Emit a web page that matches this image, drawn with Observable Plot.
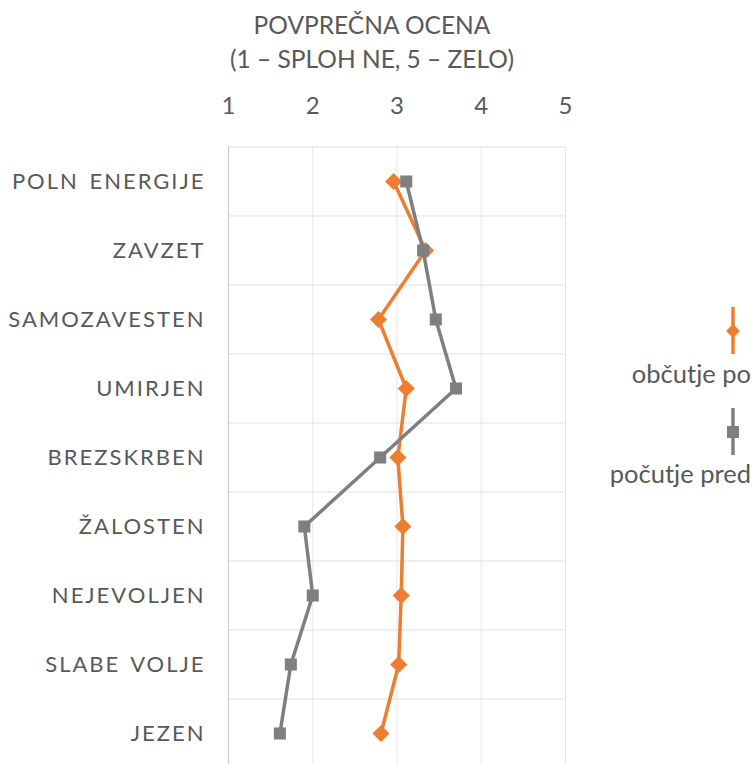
<!DOCTYPE html>
<html>
<head>
<meta charset="utf-8">
<script src="https://cdn.jsdelivr.net/npm/d3@7"></script>
<script src="https://cdn.jsdelivr.net/npm/@observablehq/plot@0.6"></script>
<style>
  body { margin: 0; background: #fff; }
  #wrap { position: relative; width: 752px; height: 764px; overflow: hidden; font-family: Lato, sans-serif; color: #595959; }
  #title { position: absolute; left: 0; width: 744px; top: 8px; text-align: center; font-size: 24.5px; line-height: 34px; }
  #wrap > svg { position: absolute; left: 0; top: 0; }
  #legend { pointer-events: none; }
</style>
</head>
<body>
<div id="wrap"><div id="title">POVPREČNA OCENA<br>(1 – SPLOH NE, 5 – ZELO)</div></div>
<script>
const categories = ["POLN ENERGIJE", "ZAVZET", "SAMOZAVESTEN", "UMIRJEN", "BREZSKRBEN", "ŽALOSTEN", "NEJEVOLJEN", "SLABE VOLJE", "JEZEN"];
const obcutjePo   = [2.96, 3.34, 2.78, 3.11, 3.01, 3.07, 3.05, 3.02, 2.81];
const pocutjePred = [3.11, 3.31, 3.46, 3.70, 2.80, 1.90, 2.00, 1.74, 1.61];
const xTicks = [1, 2, 3, 4, 5];
const seriesNames = ["občutje po", "počutje pred"];
const seriesColors = ["#ED7D31", "#7F7F7F"];

const rows = categories.flatMap((c, i) => [
  {cat: c, serie: seriesNames[0], value: obcutjePo[i]},
  {cat: c, serie: seriesNames[1], value: pocutjePred[i]}
]);

const W = 752, H = 764, fTop = 146, fBottom = 768, fLeft = 228, fRight = 565;
const step = (fBottom - fTop) / categories.length;
const isPo = d => d.serie === seriesNames[0];
const isPred = d => d.serie === seriesNames[1];

const chart = Plot.plot({
  width: W, height: H,
  marginTop: fTop, marginLeft: fLeft, marginRight: W - fRight, marginBottom: 0,
  style: {fontFamily: "Lato, sans-serif", color: "#595959", background: "transparent", overflow: "visible"},
  x: {domain: [1, 5], ticks: xTicks, axis: "top", tickSize: 0, tickPadding: 33, tickFormat: d => String(d), label: null},
  y: {type: "point", domain: categories, range: [fTop, fBottom], padding: 0.5, axis: "left", tickSize: 0, tickPadding: 23, label: null},
  marks: [
    Plot.ruleX(xTicks.slice(1), {stroke: "#e6e6e6", strokeWidth: 1}),
    Plot.ruleY(categories, {dy: -step / 2, stroke: "#e0e0e0", strokeWidth: 1}),
    Plot.ruleX([xTicks[0]], {stroke: "#cccccc", strokeWidth: 1.2}),
    Plot.line(rows, {filter: isPo, x: "value", y: "cat", stroke: seriesColors[0], strokeWidth: 3.5}),
    Plot.dot(rows, {filter: isPo, x: "value", y: "cat", symbol: "diamond2", r: 7.7, fill: seriesColors[0], stroke: "none"}),
    Plot.line(rows, {filter: isPred, x: "value", y: "cat", stroke: seriesColors[1], strokeWidth: 3.5}),
    Plot.dot(rows, {filter: isPred, x: "value", y: "cat", symbol: "square", r: 6.8, fill: seriesColors[1], stroke: "none"})
  ]
});

const wrap = document.getElementById("wrap");
wrap.insertBefore(chart, wrap.firstChild);

d3.select(chart).selectAll('[aria-label^="x-axis"] text')
  .attr("font-size", "24px").attr("fill", "#595959");
d3.select(chart).selectAll('[aria-label^="y-axis"] text')
  .attr("font-size", "22px").attr("fill", "#595959")
  .style("letter-spacing", "2px").style("word-spacing", "3px");

// Legend
const legend = d3.select(wrap).append("svg").attr("id", "legend")
  .attr("width", W).attr("height", H);
const lx = 733, legTop = [307, 408], legText = [383, 483];
const symbols = [d3.symbol(d3.symbolDiamond2, 125), d3.symbol(d3.symbolSquare, 144)];
seriesNames.forEach((name, i) => {
  const g = legend.append("g");
  g.append("line").attr("x1", lx).attr("x2", lx).attr("y1", legTop[i]).attr("y2", legTop[i] + 47)
    .attr("stroke", seriesColors[i]).attr("stroke-width", 3.5);
  g.append("path").attr("d", symbols[i]()).attr("transform", `translate(${lx},${legTop[i] + 24})`)
    .attr("fill", seriesColors[i]);
  g.append("text").attr("x", 751).attr("y", legText[i]).attr("text-anchor", "end")
    .attr("font-family", "Lato, sans-serif").attr("font-size", "25.5px").attr("fill", "#595959")
    .text(name);
});
</script>
</body>
</html>
